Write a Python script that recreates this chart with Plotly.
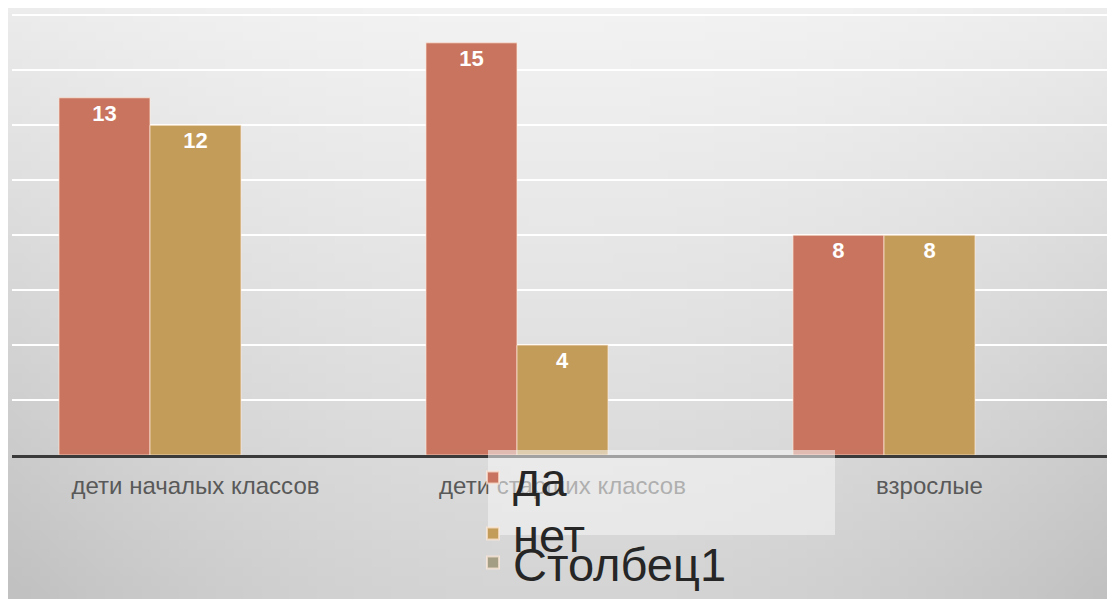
import base64, struct, zlib
import plotly.graph_objects as go

categories = ["дети началых классов", "дети старших классов", "взрослые"]
series_names = ["да", "нет", "Столбец1"]
da_values = [13, 15, 8]
net_values = [12, 4, 8]
stolbec_values = [None, None, None]

colors = ["#C8745E", "#C49C5A", "#A39E84"]

# background gradient as generated PNG (style only)
def make_png(w, h):
    rows = b""
    for j in range(h):
        y = j / (h - 1)
        row = bytearray([0])
        for i in range(w):
            x = i / (w - 1)
            d = (2 * abs(x - 0.5)) ** 2
            v = 243 - 30 * y - 20 * d * (0.35 + 0.65 * y)
            row.append(max(0, min(255, int(v))))
        rows += bytes(row)
    def chunk(t, data):
        c = struct.pack(">I", len(data)) + t + data
        return c + struct.pack(">I", zlib.crc32(t + data) & 0xffffffff)
    png = b"\x89PNG\r\n\x1a\n"
    png += chunk(b"IHDR", struct.pack(">IIBBBBB", w, h, 8, 0, 0, 0, 0))
    png += chunk(b"IDAT", zlib.compress(rows, 9))
    png += chunk(b"IEND", b"")
    return "data:image/png;base64," + base64.b64encode(png).decode()

bg = make_png(120, 64)

OFF = 8  # page body margin
W, H = 1115 - OFF, 599 - OFF
ml, mr, mt, mb = 12 - OFF, 2, 14 - OFF, 144
pw = W - ml - mr
ph = H - mt - mb

def sx(x):  # screen px -> paper x
    return (x - OFF - ml) / pw

def sy(y):  # screen px -> paper y
    return (H - mb - (y - OFF)) / ph

fig = go.Figure()
legends = ["legend", "legend2", "legend3"]
for name, vals, col, lg in zip(series_names, [da_values, net_values, stolbec_values], colors, legends):
    fig.add_trace(go.Bar(
        name=name, x=categories, y=vals, legend=lg,
        marker=dict(color=col, line=dict(color="rgba(255,235,220,0.7)", width=1)),
        text=[str(v) if v is not None else "" for v in vals],
        textposition="inside", insidetextanchor="end", textangle=0,
        textfont=dict(family="Liberation Sans", size=22, color="white", weight="bold"),
        cliponaxis=False,
    ))

legend_font = dict(family="Liberation Sans", size=47, color="#262626")
def leg(ycenter):
    return dict(x=sx(473), y=sy(ycenter), xanchor="left", yanchor="middle",
                bgcolor="rgba(0,0,0,0)", font=legend_font, itemsizing="constant")

fig.update_layout(
    width=W, height=H,
    margin=dict(l=ml, r=mr, t=mt, b=mb, pad=0, autoexpand=False),
    paper_bgcolor="#dcdcdc",
    plot_bgcolor="rgba(0,0,0,0)",
    barmode="group", bargap=0.256, bargroupgap=0.0,
    showlegend=True,
    legend=leg(478), legend2=leg(534), legend3=leg(563),
    images=[dict(source=bg, xref="paper", yref="paper",
                 x=-ml / pw, y=1 + mt / ph, sizex=W / pw, sizey=H / ph,
                 sizing="stretch", layer="below", xanchor="left", yanchor="top")],
    shapes=[dict(type="rect", xref="paper", yref="paper",
                 x0=sx(488), x1=sx(835), y0=sy(535), y1=sy(450),
                 fillcolor="rgba(245,245,245,0.55)", line=dict(width=0), layer="above")],
    xaxis=dict(
        showline=True, linecolor="#3a3a3a", linewidth=3,
        showgrid=False, ticks="", ticklabelstandoff=7,
        tickfont=dict(family="Liberation Sans", size=24, color="#595959"),
    ),
    yaxis=dict(
        range=[0, 16.05], dtick=2, showticklabels=False,
        showgrid=True, gridcolor="#ffffff", gridwidth=2,
        zeroline=False,
    ),
)

fig.write_html("out.html")
